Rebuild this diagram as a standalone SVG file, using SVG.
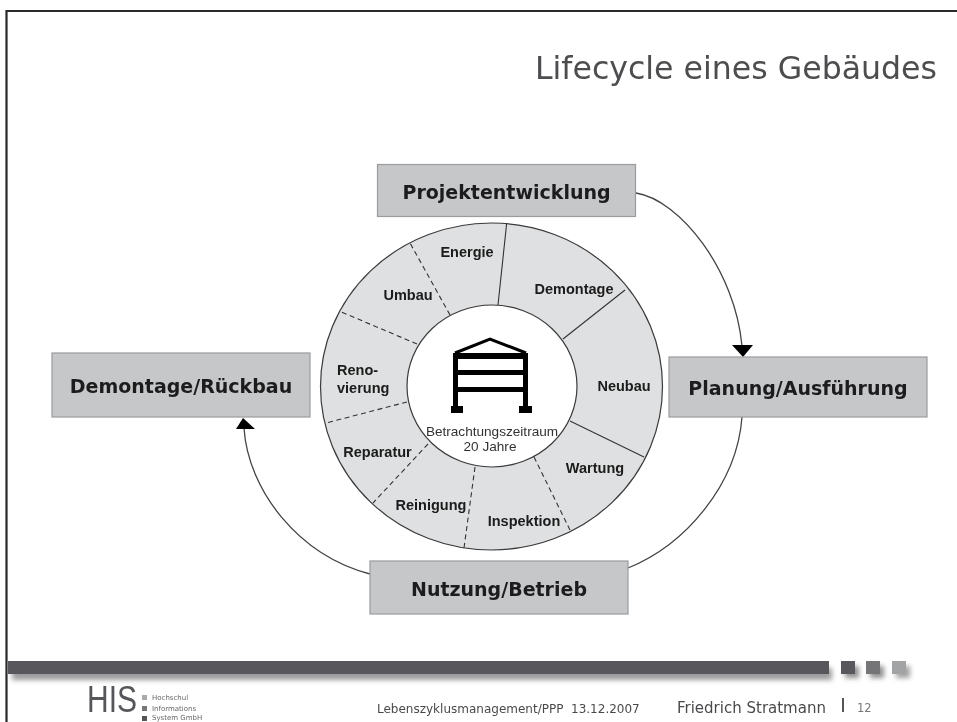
<svg xmlns="http://www.w3.org/2000/svg" width="957" height="722" viewBox="0 0 957 722">
<style>
.box{fill:#c6c7c9;stroke:#9a9b9d;stroke-width:1.2}
.bl{font-family:"DejaVu Sans",Verdana,sans-serif;font-weight:bold;font-size:19px;fill:#1c1c1e;text-anchor:middle}
.seg{font-family:"Liberation Sans",Arial,sans-serif;font-weight:bold;font-size:14.500px;fill:#1a1a1a;text-anchor:middle}
.cap{font-family:"Liberation Sans",Arial,sans-serif;font-size:13.600px;fill:#333;text-anchor:middle}
.div{stroke:#333;stroke-width:1.1;fill:none}
.dash{stroke-dasharray:5 3.500}
.con{stroke:#444;stroke-width:1.3;fill:none}
.foot{font-family:"DejaVu Sans",Verdana,sans-serif;fill:#4a4a4c}
.logo{font-family:"DejaVu Sans",Verdana,sans-serif;font-size:7px;fill:#666}
.b{fill:#000}
</style>
<defs>
<filter id="soft" x="-5%" y="-5%" width="110%" height="110%"><feGaussianBlur stdDeviation="0.45"/></filter>
<filter id="shadow" filterUnits="userSpaceOnUse" x="0" y="650" width="957" height="50"><feGaussianBlur stdDeviation="2.500"/></filter>
</defs>
<rect width="957" height="722" fill="#fff"/>
<g filter="url(#soft)">
<path d="M6.500 722V11H957" fill="none" stroke="#2a2a2a" stroke-width="2.200"/>
<text id="title" x="535" y="78.500" font-family="DejaVu Sans,Verdana,sans-serif" font-size="31.500px" fill="#4d4e50" textLength="402" lengthAdjust="spacingAndGlyphs">Lifecycle eines Gebäudes</text>

<g id="connectors">
<path class="con" d="M636 193C680 200 735 270 742 346"/>
<path d="M732 345H753L743 357Z" fill="#000"/>
<path class="con" d="M742 417C737 485 685 545 628 568"/>
<path class="con" d="M370 574C298 555 248 490 244 428"/>
<path d="M236 429H255L243 418Z" fill="#000"/>
</g>

<g id="ring">
<ellipse cx="491.500" cy="386.500" rx="171" ry="163.500" fill="#dfe0e1" stroke="#3a3a3a" stroke-width="1.200"/>
<ellipse cx="492" cy="386" rx="85" ry="81" fill="#fff" stroke="#3a3a3a" stroke-width="1.200"/>
<path class="div" d="M506.700 223L498 305M625 290L563 339M570 421L644 457"/>
<path class="div dash" d="M534 457L570 530M475 467L464 548M428 444L373 503M407 402L326 423M417 344L339 311M450 315L410 243"/>
</g>

<g id="building">
<path d="M455.500 407V354M525.500 407V354" fill="none" stroke="#000" stroke-width="5"/>
<path d="M455 353L490 339L526 353" fill="none" stroke="#000" stroke-width="3"/>
<rect class="b" x="453" y="353" width="75" height="6"/>
<rect class="b" x="453" y="370" width="75" height="5"/>
<rect class="b" x="453" y="387" width="75" height="5"/>
<rect class="b" x="451" y="406" width="12" height="7"/>
<rect class="b" x="519" y="406" width="13" height="7"/>
<text class="cap" x="492" y="436">Betrachtungszeitraum</text>
<text class="cap" x="490" y="451">20 Jahre</text>
</g>

<g id="seg-energie"><text class="seg" x="467" y="257">Energie</text></g>
<g id="seg-demontage"><text class="seg" x="574" y="294">Demontage</text></g>
<g id="seg-neubau"><text class="seg" x="624" y="391">Neubau</text></g>
<g id="seg-wartung"><text class="seg" x="595" y="473">Wartung</text></g>
<g id="seg-inspektion"><text class="seg" x="524" y="526">Inspektion</text></g>
<g id="seg-reinigung"><text class="seg" x="431" y="510">Reinigung</text></g>
<g id="seg-reparatur"><text class="seg" x="377.500" y="457">Reparatur</text></g>
<g id="seg-renovierung"><text class="seg" x="337" y="375" style="text-anchor:start">Reno-</text><text class="seg" x="337" y="393" style="text-anchor:start">vierung</text></g>
<g id="seg-umbau"><text class="seg" x="408" y="300">Umbau</text></g>

<g id="node-projekt"><rect class="box" x="377.500" y="164.500" width="258" height="52"/><text class="bl" x="506.500" y="199">Projektentwicklung</text></g>
<g id="node-planung"><rect class="box" x="669" y="357" width="258" height="60"/><text class="bl" x="798" y="395">Planung/Ausführung</text></g>
<g id="node-nutzung"><rect class="box" x="370" y="561" width="258" height="53"/><text class="bl" x="499" y="596">Nutzung/Betrieb</text></g>
<g id="node-demontage"><rect class="box" x="52" y="353" width="258" height="64"/><text class="bl" x="181" y="393">Demontage/Rückbau</text></g>

<g id="footer">
<rect x="12" y="668" width="820" height="12" fill="#9c9c9c" filter="url(#shadow)"/>
<rect x="845" y="666" width="14" height="12" fill="#909090" filter="url(#shadow)"/>
<rect x="870" y="666" width="14" height="12" fill="#909090" filter="url(#shadow)"/>
<rect x="896" y="666" width="14" height="12" fill="#a0a0a0" filter="url(#shadow)"/>
<rect x="8" y="661" width="821" height="13" fill="#58595b"/>
<rect x="841" y="661" width="14" height="13" fill="#58595b"/>
<rect x="866" y="661" width="14" height="13" fill="#747577"/>
<rect x="892" y="661" width="14" height="13" fill="#a2a3a5"/>
<text x="87" y="711.500" font-family="Liberation Sans,Arial,sans-serif" font-size="37px" fill="#55565a" textLength="50" lengthAdjust="spacingAndGlyphs">HIS</text>
<rect x="142" y="695" width="5" height="5" fill="#aaa"/>
<rect x="142" y="706" width="5" height="5" fill="#777"/>
<rect x="142" y="716" width="5" height="5" fill="#555"/>
<text class="logo" x="152" y="700">Hochschul</text>
<text class="logo" x="152" y="711">Informations</text>
<text class="logo" x="152" y="720">System GmbH</text>
<text class="foot" x="377" y="713" font-size="12px" xml:space="preserve">Lebenszyklusmanagement/PPP  13.12.2007</text>
<text class="foot" x="677" y="712.500" font-size="15px">Friedrich Stratmann</text>
<rect x="842" y="698" width="2" height="14" fill="#555"/>
<text class="foot" x="857" y="712" font-size="11.500px" style="fill:#777">12</text>
</g>
</g>
</svg>
